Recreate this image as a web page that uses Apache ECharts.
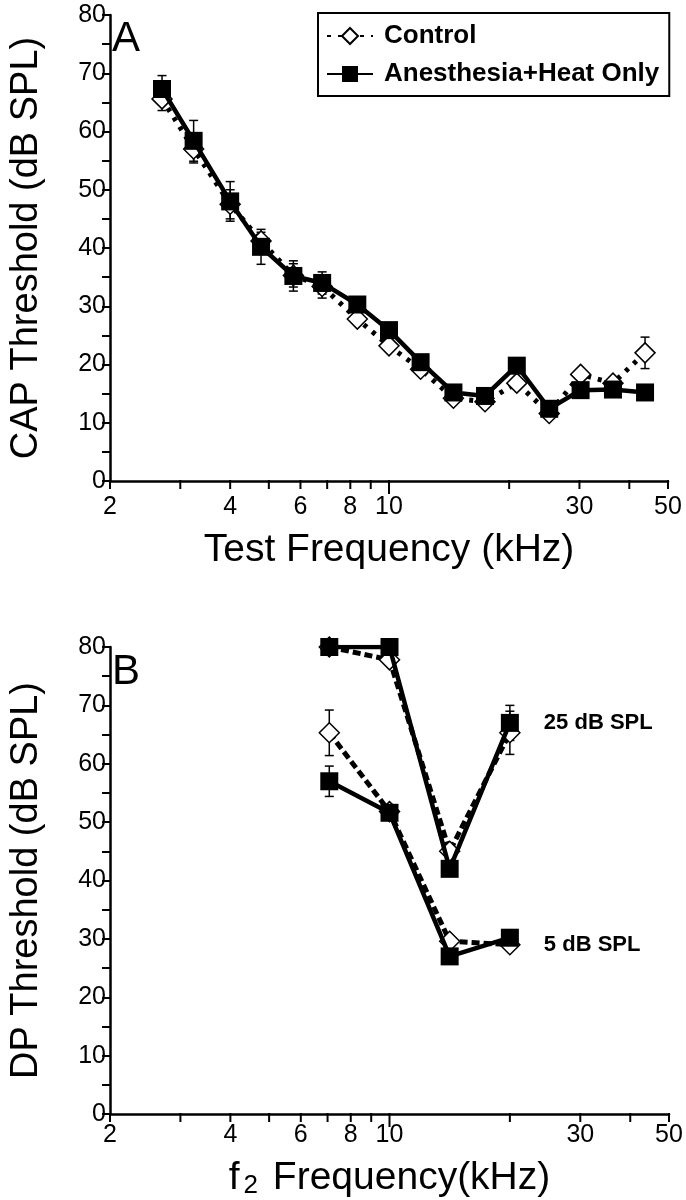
<!DOCTYPE html>
<html>
<head>
<meta charset="utf-8">
<script src="https://cdn.jsdelivr.net/npm/echarts@6/dist/echarts.min.js"></script>
<style>
  html, body { margin: 0; padding: 0; background: #fff; }
  #chart { width: 686px; height: 1200px; }
</style>
</head>
<body>
<div id="chart"></div>
<script>
// ---------------- Data ----------------
// Panel A: CAP thresholds
const capFreq = [2.7, 3.24, 4.0, 4.78, 5.76, 6.8, 8.33, 10.0, 12.0, 14.5, 17.4, 20.9, 25.2, 30.2, 36.4, 43.8];
const capControl = [65.6, 57.0, 47.5, 41.2, 35.3, 33.4, 27.8, 23.2, 19.2, 14.2, 13.6, 16.8, 11.6, 18.3, 16.8, 22.0];
const capControlErr = [2.0, 2.4, 2.5, 1.5, 2.0, 2.0, 0.8, 0.8, 0.8, 0.8, 0.8, 0.8, 0.8, 0.8, 0.8, 2.7];
const capAnesthesia = [67.3, 58.4, 48.0, 40.2, 35.2, 34.0, 30.3, 25.9, 20.4, 15.2, 14.6, 19.8, 12.4, 15.6, 15.7, 15.2];
const capAnesthesiaErr = [2.3, 3.5, 3.4, 3.0, 2.6, 1.9, 0.8, 0.8, 0.8, 0.8, 0.8, 0.8, 0.8, 0.8, 0.8, 0.8];

// Panel B: DP thresholds at two criterion levels
const dpFreq = [7.07, 10, 14.14, 20];
const dp25Control = [80, 77.8, 45.0, 65.3];
const dp25ControlErr = [0.5, 0.5, 0.5, 3.7];
const dp25Anesthesia = [80, 80, 42.0, 67.0];
const dp25AnesthesiaErr = [0.8, 0.5, 0.5, 3.0];
const dp5Control = [65.3, 51.8, 29.6, 29.0];
const dp5ControlErr = [3.9, 0.5, 0.5, 0.5];
const dp5Anesthesia = [57.0, 51.6, 27.0, 30.2];
const dp5AnesthesiaErr = [2.6, 0.5, 0.5, 0.5];

// Axis ticks
const xTickValues = [2, 3, 4, 5, 6, 7, 8, 9, 10, 20, 30, 40, 50];
const xTickLabels = [2, 4, 6, 8, 10, 30, 50];
const yMin = 0, yMax = 80, yInterval = 10;

// ---------------- Styles ----------------
const NARROW = '"Liberation Sans Narrow", "Liberation Sans", Arial, sans-serif';
const SANS = '"Liberation Sans", Arial, sans-serif';
const BLACK = '#000';

const grids = [
  { left: 106, top: 15, width: 562, height: 466 },
  { left: 107, top: 647, width: 562, height: 467 }
];
const xNameGaps = [50, 43];
const xLabelOffsets = [14, 9];

function pairs(xs, ys) { return xs.map((x, i) => [x, ys[i]]); }
function errData(xs, ys, es) { return xs.map((x, i) => [x, ys[i], es[i]]); }

function makeYAxis(gi, name) {
  return {
    gridIndex: gi, type: 'value', min: yMin, max: yMax, interval: yInterval,
    axisLine: { show: true, lineStyle: { color: BLACK, width: 2.5 } },
    axisTick: { show: true, inside: false, length: 8, lineStyle: { color: BLACK, width: 2 } },
    minorTick: { show: true, splitNumber: 2, length: 8, lineStyle: { color: BLACK, width: 2 } },
    splitLine: { show: false },
    axisLabel: { color: BLACK, fontSize: 25, fontFamily: NARROW, margin: 4 },
    name: name, nameLocation: 'middle', nameGap: 64,
    nameTextStyle: { color: BLACK, fontSize: 38, fontFamily: SANS }
  };
}
function makeXAxis(gi, name, rich) {
  return {
    gridIndex: gi, type: 'log', logBase: 10, min: 2, max: 50,
    axisLine: { show: true, onZero: false, lineStyle: { color: BLACK, width: 2.5 } },
    axisTick: { show: false }, axisLabel: { show: false },
    splitLine: { show: false }, minorTick: { show: false }, minorSplitLine: { show: false },
    name: name, nameLocation: 'middle', nameGap: xNameGaps[gi],
    nameTextStyle: Object.assign({ color: BLACK, fontSize: 39, fontFamily: SANS }, rich ? { rich: rich } : {})
  };
}

function tickSeries(gi) {
  return {
    type: 'custom', xAxisIndex: gi, yAxisIndex: gi, silent: true, z: 5,
    data: xTickValues.map(v => [v, yMin]),
    renderItem: function (params, api) {
      const v = api.value(0);
      const p = api.coord([v, yMin]);
      const len = (v === 10) ? 13 : 8;
      const children = [{
        type: 'line', shape: { x1: p[0], y1: p[1] - 1, x2: p[0], y2: p[1] + len },
        style: { stroke: BLACK, lineWidth: 2 }
      }];
      if (xTickLabels.indexOf(v) >= 0) {
        children.push({
          type: 'text',
          style: { text: String(v), x: p[0], y: p[1] + xLabelOffsets[gi], align: 'center', verticalAlign: 'top',
                   font: '25px ' + NARROW, fill: BLACK }
        });
      }
      return { type: 'group', children: children };
    }
  };
}

function errorSeries(gi, data) {
  return {
    type: 'custom', xAxisIndex: gi, yAxisIndex: gi, silent: true, z: 1,
    data: data,
    renderItem: function (params, api) {
      const x = api.value(0), y = api.value(1), e = api.value(2);
      const top = api.coord([x, y + e]);
      const bot = api.coord([x, y - e]);
      const w = 4.5;
      return {
        type: 'group', children: [
          { type: 'line', shape: { x1: top[0], y1: top[1], x2: bot[0], y2: bot[1] }, style: { stroke: BLACK, lineWidth: 1.5 } },
          { type: 'line', shape: { x1: top[0] - w, y1: top[1], x2: top[0] + w, y2: top[1] }, style: { stroke: BLACK, lineWidth: 1.5 } },
          { type: 'line', shape: { x1: bot[0] - w, y1: bot[1], x2: bot[0] + w, y2: bot[1] }, style: { stroke: BLACK, lineWidth: 1.5 } }
        ]
      };
    }
  };
}

function controlLine(gi, name, data, dash) {
  return {
    type: 'line', name: name, xAxisIndex: gi, yAxisIndex: gi, data: data,
    symbol: 'diamond', symbolSize: 20, z: 3,
    itemStyle: { color: '#fff', borderColor: BLACK, borderWidth: 1.5 },
    lineStyle: { color: BLACK, width: 5, type: dash, cap: 'butt' },
    emphasis: { disabled: true }, animation: false
  };
}
function anesLine(gi, name, data, extra) {
  return Object.assign({
    type: 'line', name: name, xAxisIndex: gi, yAxisIndex: gi, data: data,
    symbol: 'rect', symbolSize: 18, z: 4,
    itemStyle: { color: BLACK, borderColor: BLACK, borderWidth: 0 },
    lineStyle: { color: BLACK, width: 4.5, type: 'solid' },
    emphasis: { disabled: true }, animation: false
  }, extra || {});
}

const option = {
  animation: false,
  backgroundColor: '#fff',
  grid: grids.map(g => Object.assign({ containLabel: false }, g)),
  xAxis: [
    makeXAxis(0, 'Test Frequency (kHz)'),
    makeXAxis(1, 'f{sub|2} Frequency(kHz)', { sub: { fontSize: 26, fontFamily: SANS, color: BLACK, verticalAlign: 'bottom', padding: [16, 4, 0, 4] } })
  ],
  yAxis: [
    makeYAxis(0, 'CAP Threshold (dB SPL)'),
    makeYAxis(1, 'DP Threshold (dB SPL)')
  ],
  legend: {
    data: ['Control', 'Anesthesia+Heat Only'],
    orient: 'vertical', left: 318, top: 13,
    padding: [10, 10, 9, 8], itemGap: 12,
    itemWidth: 46, itemHeight: 20,
    borderColor: BLACK, borderWidth: 2, backgroundColor: '#fff',
    textStyle: { color: BLACK, fontSize: 26, fontWeight: 'bold', fontFamily: NARROW, padding: [0, 0, 0, 6] },
    selectedMode: false
  },
  graphic: [
    { type: 'text', left: 112, top: 18, style: { text: 'A', font: '42px ' + SANS, fill: BLACK } },
    { type: 'text', left: 112, top: 651, style: { text: 'B', font: '42px ' + SANS, fill: BLACK } }
  ],
  series: [
    tickSeries(0), tickSeries(1),
    errorSeries(0, errData(capFreq, capControl, capControlErr)),
    errorSeries(0, errData(capFreq, capAnesthesia, capAnesthesiaErr)),
    controlLine(0, 'Control', pairs(capFreq, capControl), [4, 7]),
    anesLine(0, 'Anesthesia+Heat Only', pairs(capFreq, capAnesthesia)),

    errorSeries(1, errData(dpFreq, dp25Control, dp25ControlErr)),
    errorSeries(1, errData(dpFreq, dp25Anesthesia, dp25AnesthesiaErr)),
    errorSeries(1, errData(dpFreq, dp5Control, dp5ControlErr)),
    errorSeries(1, errData(dpFreq, dp5Anesthesia, dp5AnesthesiaErr)),
    controlLine(1, 'Control 25 dB', pairs(dpFreq, dp25Control), [8, 4]),
    anesLine(1, 'Anesthesia 25 dB', pairs(dpFreq, dp25Anesthesia), {
      endLabel: { show: true, formatter: '25 dB SPL', distance: 34, color: BLACK,
                  fontSize: 22, fontWeight: 'bold', fontFamily: SANS }
    }),
    controlLine(1, 'Control 5 dB', pairs(dpFreq, dp5Control), [8, 4]),
    anesLine(1, 'Anesthesia 5 dB', pairs(dpFreq, dp5Anesthesia), {
      endLabel: { show: true, formatter: '5 dB SPL', distance: 34, offset: [0, 7], color: BLACK,
                  fontSize: 22, fontWeight: 'bold', fontFamily: SANS }
    })
  ]
};

const chart = echarts.init(document.getElementById('chart'), null, { renderer: 'canvas' });
chart.setOption(option);
</script>
</body>
</html>
